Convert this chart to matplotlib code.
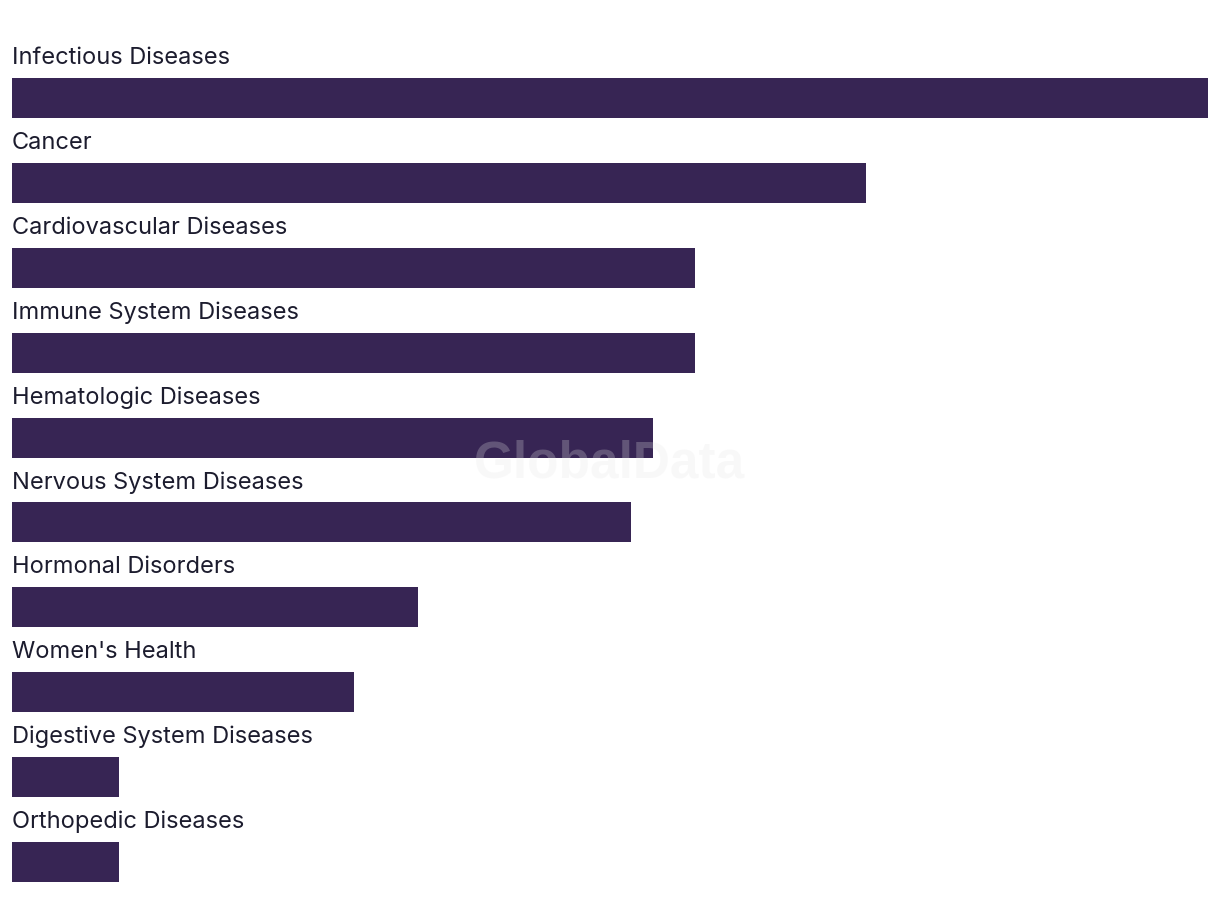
import matplotlib
matplotlib.use("Agg")
import matplotlib.pyplot as plt

categories = ["Infectious Diseases", "Cancer", "Cardiovascular Diseases",
              "Immune System Diseases", "Hematologic Diseases",
              "Nervous System Diseases", "Hormonal Disorders", "Women's Health",
              "Digestive System Diseases", "Orthopedic Diseases"]
values = [56, 40, 32, 32, 30, 29, 19, 16, 5, 5]

W, H = 1220, 924
fig = plt.figure(figsize=(W / 100, H / 100), dpi=100)
fig.patch.set_facecolor("white")
ax = fig.add_axes([12 / W, 0, 1196 / W, 1])
ax.set_xlim(0, 56)
step = 84.89
ax.set_ylim((H - 98) / step, -98 / step)
pos = list(range(len(categories)))
ax.barh(pos, values, height=40 / step, color="#372554", align="center")
for i, c in enumerate(categories):
    ax.text(0, i - 0.47, c, ha="left", va="center", fontsize=17,
            color="#1c1c2e", family=["Inter", "DejaVu Sans"])
ax.axis("off")
fig.text(610 / W, 1 - 464 / H, "GlobalData", ha="center", va="center",
         fontsize=37, fontweight="bold", color="#e6e6e6", alpha=0.25,
         family=["Liberation Sans", "DejaVu Sans"], zorder=10)
fig.savefig("out.png", dpi=100, facecolor="white")
